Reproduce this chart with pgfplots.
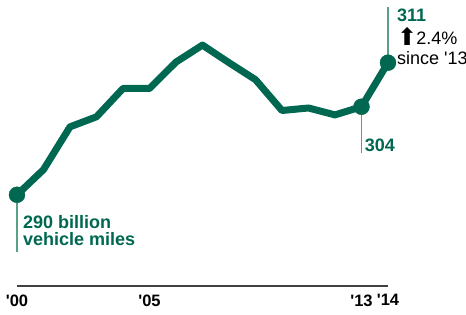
\documentclass[border=0pt]{standalone}
\usepackage{pgfplots}
\pgfplotsset{compat=1.18}
\usepackage{fontspec}
\setmainfont{Liberation Sans}
\newfontfamily\symfont{DejaVu Sans}
\definecolor{dg}{RGB}{0,104,80}
\definecolor{lg}{RGB}{90,160,135}
\definecolor{ax}{RGB}{64,64,64}
\begin{document}
\begin{tikzpicture}[x=1pt,y=1pt]
\path[use as bounding box] (0,0) rectangle (466,315);
\begin{axis}[
  at={(17pt,29pt)}, anchor=south west,
  scale only axis, width=371pt, height=286.2pt,
  xmin=2000, xmax=2014, ymin=275.5, ymax=321,
  clip=false,
  axis x line=bottom, axis y line=none,
  x axis line style={draw=ax, line width=2pt, -},
  xtick={2000,2005,2013,2014},
  xticklabels={\textquotesingle00,\textquotesingle05,\textquotesingle13,\textquotesingle14},
  major tick length=0pt,
  xticklabel style={font=\fontsize{16.5}{17}\selectfont\bfseries, yshift=-5pt},
  /pgf/number format/assume math mode=true,
]
\draw[lg, line width=1.2pt] (axis cs:2000,290) -- (axis cs:2000,280.9);
\draw[lg, line width=1.2pt] (axis cs:2013,304) -- (axis cs:2013,296.7);
\draw[lg, line width=1.2pt] (axis cs:2014,311) -- (axis cs:2014,319.9);
\addplot[dg, line width=7pt, line join=round, mark=none] coordinates {
(2000,290) (2001,294.0) (2002,300.8) (2003,302.4) (2004,306.9) (2005,306.9)
(2006,311.1) (2007,313.8) (2008,311.0) (2009,308.3) (2010,303.4) (2011,303.8)
(2012,302.7) (2013,304) (2014,311)};
\addplot[dg, only marks, mark=*, mark size=8pt] coordinates {(2000,290) (2013,304) (2014,311)};
\node[anchor=west, text=dg, font=\fontsize{18}{17}\selectfont\bfseries, inner sep=0pt] at (axis cs:2000.22,285.7) {290 billion};
\node[anchor=west, text=dg, font=\fontsize{18}{17}\selectfont\bfseries, inner sep=0pt] at (axis cs:2000.22,283.0) {vehicle miles};
\node[anchor=west, text=dg, font=\fontsize{18}{17}\selectfont\bfseries, inner sep=0pt] at (axis cs:2013.12,297.9) {304};
\node[anchor=west, text=dg, font=\fontsize{18}{17}\selectfont\bfseries, inner sep=0pt] at (axis cs:2014.34,318.6) {311};
\node[anchor=west, text=black, font=\fontsize{18}{17}\selectfont, inner sep=0pt] at (axis cs:2014.34,315.1) {{\symfont\fontsize{24}{24}\selectfont\raisebox{-1pt}{⬆}}\kern-1pt2.4\%};
\node[anchor=west, text=black, font=\fontsize{18}{17}\selectfont, inner sep=0pt] at (axis cs:2014.34,311.8) {since \textquotesingle13};
\end{axis}
\end{tikzpicture}
\end{document}
